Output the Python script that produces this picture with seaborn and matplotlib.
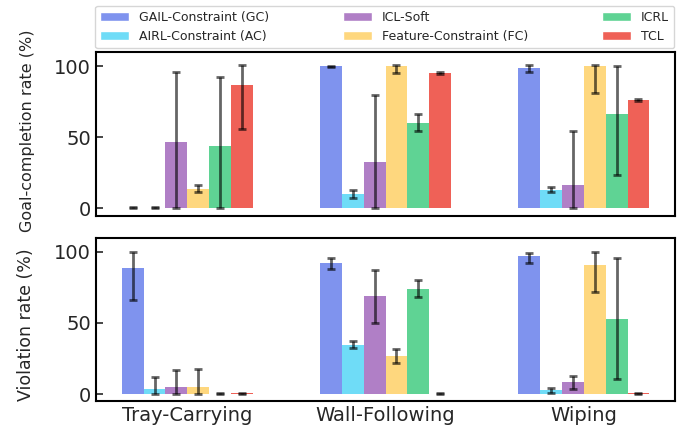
import numpy as np
import pandas as pd
import seaborn as sns
import matplotlib.pyplot as plt
from matplotlib.patches import Patch

# =========================
# DATA
# =========================
tasks = ['Tray-Carrying', 'Wall-Following', 'Wiping']
methods = ['GAIL-Constraint (GC)', 'AIRL-Constraint (AC)', 'ICL-Soft',
           'Feature-Constraint (FC)', 'ICRL', 'TCL']
colors = ['#7f93ee', '#6fdcf7', '#b07fc6', '#fed77e', '#5fd394', '#ef6157']

# goal-completion rate (%), one list per method across tasks
goal_mean = [[0.5, 100.0, 98.5],
             [0.5, 10.3, 13.3],
             [47.0, 33.0, 16.6],
             [13.8, 100.0, 100.0],
             [44.0, 60.2, 66.5],
             [86.8, 95.3, 76.3]]
goal_lo = [[0.3, 0.3, 2.5],
           [0.3, 3.0, 2.0],
           [47.0, 33.0, 16.6],
           [2.4, 4.5, 18.5],
           [44.0, 6.0, 42.8],
           [31.0, 0.5, 1.0]]
goal_hi = [[0.3, 0.3, 2.5],
           [0.3, 3.0, 2.0],
           [49.0, 47.0, 37.7],
           [2.4, 1.0, 1.0],
           [48.5, 6.3, 33.5],
           [14.0, 0.5, 1.0]]

# violation rate (%)
viol_mean = [[88.6, 92.0, 97.2],
             [3.3, 34.8, 2.6],
             [4.7, 69.2, 8.2],
             [4.7, 27.1, 90.9],
             [0.3, 74.1, 53.0],
             [0.5, 0.3, 0.5]]
viol_lo = [[22.7, 4.1, 4.9],
           [3.3, 2.3, 1.9],
           [4.7, 19.2, 4.7],
           [4.7, 5.4, 18.9],
           [0.3, 6.1, 42.5],
           [0.3, 0.3, 0.3]]
viol_hi = [[11.2, 4.0, 2.3],
           [8.6, 2.8, 1.4],
           [12.1, 18.2, 4.2],
           [13.1, 4.9, 8.9],
           [0.3, 6.3, 42.6],
           [0.3, 0.3, 0.3]]


def to_long(means):
    rows = []
    for m, vals in zip(methods, means):
        for t, v in zip(tasks, vals):
            rows.append({'task': t, 'method': m, 'value': v})
    return pd.DataFrame(rows)


# =========================
# PLOT
# =========================
sns.set_style('white')
plt.rcParams['font.family'] = ['DejaVu Sans']

fig, axes = plt.subplots(2, 1, figsize=(6.91, 4.30), dpi=100, sharex=True)
fig.subplots_adjust(left=0.139, right=0.977, top=0.879, bottom=0.067, hspace=0.135)

panels = [(goal_mean, goal_lo, goal_hi, 'Goal-completion rate (%)', 11.5, 0.52),
          (viol_mean, viol_lo, viol_hi, 'Violation rate (%)', 12.5, 0.47)]

for ax, (means, lo, hi, ylabel, lsize, ly) in zip(axes, panels):
    df = to_long(means)
    sns.barplot(data=df, x='task', y='value', hue='method', order=tasks,
                hue_order=methods, palette=colors, saturation=1, width=0.66,
                errorbar=None, legend=False, linewidth=0, edgecolor='none', ax=ax)

    bar_conts = list(ax.containers)
    for i, cont in enumerate(bar_conts):
        xs = [b.get_x() + b.get_width() / 2 for b in cont]
        ys = [b.get_height() for b in cont]
        ax.errorbar(xs, ys, yerr=[lo[i], hi[i]], fmt='none', ecolor='black',
                    alpha=0.6, elinewidth=2, capsize=3, capthick=2, zorder=5)

    ax.set_ylim(-5, 110)
    ax.set_xlim(-0.46, 2.46)
    ax.set_yticks([0, 50, 100])
    ax.set_ylabel(ylabel, fontsize=lsize)
    ax.yaxis.set_label_coords(-0.105, ly)
    ax.set_xlabel('')
    ax.tick_params(axis='y', direction='in', length=5, width=1.2, labelsize=14, left=True)
    ax.tick_params(axis='x', length=0, labelsize=14)
    for s in ax.spines.values():
        s.set_visible(True)
        s.set_color('black')
        s.set_linewidth(1.5)

handles = [Patch(facecolor=c, label=m) for c, m in zip(colors, methods)]
fig.legend(handles=handles, loc='lower left', ncol=3, mode='expand',
           bbox_to_anchor=(0.1375, 0.888, 0.838, 0.107), borderaxespad=0,
           fontsize=9, handlelength=2.3, frameon=True)

fig.savefig('out.png', dpi=100)
